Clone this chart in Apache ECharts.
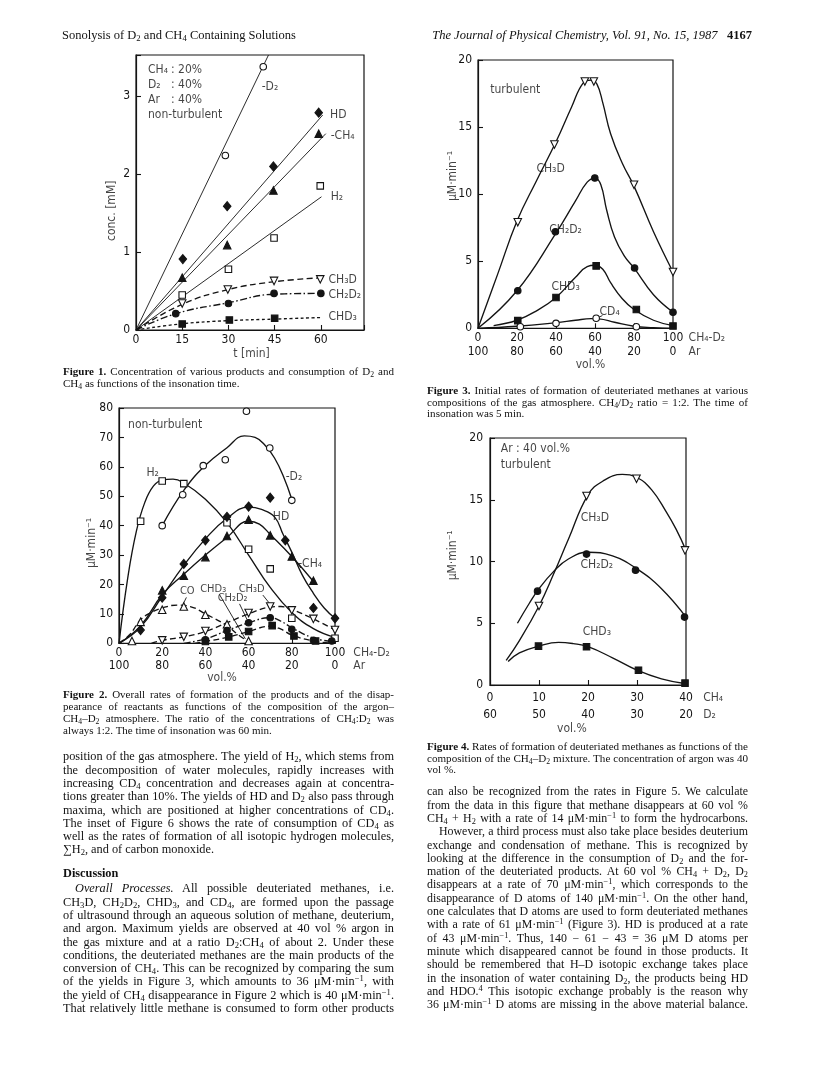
<!DOCTYPE html>
<html><head><meta charset="utf-8">
<script src="https://cdn.jsdelivr.net/npm/echarts@6/dist/echarts.min.js"></script>
<style>
html,body{margin:0;padding:0;background:#fff;}
#page{position:relative;width:820px;height:1068px;overflow:hidden;background:#fff;}
#chart{position:absolute;left:0;top:0;width:820px;height:1068px;}
.ln{position:absolute;font-family:'Liberation Serif','Times New Roman',serif;color:#111;white-space:nowrap;overflow:visible;}
sub{font-size:0.7em;vertical-align:-0.28em;line-height:0;}
sup{font-size:0.7em;vertical-align:0.45em;line-height:0;}
</style></head>
<body><div id="page"><div id="chart"></div><div id="txt"></div></div>
<script>
// ---------------- DATA ----------------
// Figure 1 (conc. [mM] vs t [min])
const fig1XTicks = [0, 15, 30, 45, 60];
const fig1YTicks = [0, 1, 2, 3];
const fig1D2Pts = [[29, 2.24], [41.3, 3.38]];
const fig1D2Line = [[0, 0], [43, 3.53]];
const fig1HDPts = [[15.2, 0.91], [29.6, 1.59], [44.6, 2.1], [59.3, 2.79]];
const fig1HDLine = [[0, 0], [60.6, 2.76]];
const fig1CH4Pts = [[15, 0.67], [29.6, 1.09], [44.6, 1.79], [59.3, 2.52]];
const fig1CH4Line = [[0, 0], [61.6, 2.52]];
const fig1H2Pts = [[15, 0.45], [30, 0.78], [44.8, 1.18], [59.8, 1.85]];
const fig1H2Line = [[0, 0], [60.2, 1.71]];
const fig1CH3DPts = [[15, 0.34], [29.8, 0.52], [44.8, 0.63], [59.8, 0.65]];
const fig1CH3DCurve = [[0, 0], [15, 0.33], [30, 0.52], [45, 0.62], [60, 0.67]];
const fig1CH2D2Pts = [[12.9, 0.21], [30, 0.34], [44.8, 0.47], [60, 0.47]];
const fig1CH2D2Curve = [[0, 0], [13, 0.21], [30, 0.35], [45, 0.46], [60, 0.47]];
const fig1CHD3Pts = [[15, 0.077], [30.3, 0.128], [45, 0.15]];
const fig1CHD3Curve = [[0, 0], [15, 0.08], [30, 0.12], [45, 0.14], [60, 0.16]];

// Figure 2 (µM·min-1 vs vol.%), non-turbulent
const fig2XTop = ['0', '20', '40', '60', '80', '100'];
const fig2XBottom = ['100', '80', '60', '40', '20', '0'];
const fig2YTicks = [0, 10, 20, 30, 40, 50, 60, 70, 80];
const fig2D2Pts = [[20, 40], [29.5, 50.5], [39, 60.4], [49.2, 62.4], [59, 78.9], [69.8, 66.4], [80, 48.6]];
const fig2D2Curve = [[20, 40], [30, 52], [40, 60.5], [50, 66.5], [58, 70.5], [63, 70], [68, 67], [72, 63], [76, 57], [80, 49]];
const fig2H2Pts = [[10, 41.5], [20, 55.2], [30, 54.3], [50, 41], [60, 32], [70, 25.3], [80, 8.5], [100, 1.7]];
const fig2H2Curve = [[0, 0], [4, 22], [8, 38], [12, 48], [16, 53.5], [20, 55.5], [25, 55.8], [30, 54.5], [40, 49], [50, 41], [60, 30], [70, 19], [80, 10.5], [90, 5], [100, 2]];
const fig2HDPts = [[10, 4.5], [20, 15.5], [30, 27], [40, 35], [50, 43], [60, 46.5], [70, 49.5], [77, 35], [90, 12], [100, 8.5]];
const fig2HDCurve = [[0, 0], [10, 5.5], [20, 16], [30, 26.5], [40, 35.5], [50, 42.5], [60, 46.3], [66, 45.5], [72, 43], [76, 37], [80, 31], [85, 23], [90, 17], [95, 12], [100, 8.5]];
const fig2CH4Pts = [[20, 18], [30, 23], [40, 29.3], [50, 36.5], [60, 42], [70, 36.7], [80, 29.5], [90, 21.3]];
const fig2CH4Curve = [[0, 0], [10, 6], [20, 16.5], [30, 23.5], [40, 30], [50, 36], [60, 41.5], [65, 40.5], [70, 37], [80, 29.5], [90, 21]];
const fig2COPts = [[6, 0.8], [10, 7.3], [20, 11.4], [30, 12.5], [40, 9.7], [50, 6.5], [60, 0.8]];
const fig2COCurve = [[0, 0], [5, 3], [10, 8], [15, 10.5], [20, 12], [27, 13], [33, 12.5], [40, 10], [50, 6], [55, 3], [60, 0.5]];
const fig2CH3DPts = [[20, 1], [30, 2.2], [40, 4.2], [60, 10.3], [70, 12.5], [80, 11.2], [90, 8.3], [100, 4.5]];
const fig2CH3DCurve = [[15, 0], [20, 1], [30, 2.2], [40, 4], [50, 7], [60, 10], [70, 12.3], [75, 12.5], [80, 11.5], [90, 8.3], [100, 4.5]];
const fig2CH2D2Pts = [[40, 1.2], [50, 4.3], [60, 7], [70, 8.7], [80, 4.8], [90, 1], [98.5, 0.8]];
const fig2CH2D2Curve = [[30, 0], [40, 1.5], [50, 4.3], [60, 7], [70, 8.7], [75, 7.5], [80, 5.3], [90, 1.8], [100, 0.5]];
const fig2CHD3Pts = [[40, 0.6], [50.8, 2.2], [60, 4], [70.9, 6], [81, 2.5], [91, 0.8]];
const fig2CHD3Curve = [[35, 0], [40, 0.6], [50, 2], [60, 4], [70, 5.8], [75, 4.8], [80, 2.8], [90, 0.8], [100, 0]];

// Figure 3 (initial rates, turbulent)
const fig3XTop = ['0', '20', '40', '60', '80', '100'];
const fig3XBottom = ['100', '80', '60', '40', '20', '0'];
const fig3YTicks = [0, 5, 10, 15, 20];
const fig3CH3DPts = [[20.4, 7.9], [39.2, 13.7], [54.8, 18.4], [59.4, 18.4], [80, 10.7], [100, 4.2]];
const fig3CH3DCurve = [[0, 0], [10, 4], [20, 8], [30, 11], [40, 13.9], [48, 16.5], [54, 18.3], [58, 18.5], [61, 18.2], [64, 16.8], [68, 14.5], [74, 12.3], [80, 10.6], [90, 7.2], [100, 4.2]];
const fig3CH2D2Pts = [[20.4, 2.8], [39.7, 7.2], [59.9, 11.2], [80.3, 4.5], [100, 1.2]];
const fig3CH2D2Curve = [[0, 0], [20, 2.8], [40, 7.1], [50, 9.5], [56, 10.9], [60, 11.2], [63, 10.7], [66, 8.8], [70, 6.8], [75, 5.4], [80, 4.5], [90, 2.5], [100, 1.2]];
const fig3CHD3Pts = [[20.4, 0.57], [40, 2.3], [60.6, 4.65], [81.2, 1.4], [100, 0.17]];
const fig3CHD3Curve = [[8, 0.2], [20, 0.6], [30, 1.3], [40, 2.3], [50, 3.8], [56, 4.6], [60, 4.7], [64, 4.4], [68, 3.4], [74, 2.2], [80, 1.4], [90, 0.6], [100, 0.2]];
const fig3CD4Pts = [[21.7, 0.12], [40, 0.37], [60.6, 0.75], [81.2, 0.12]];
const fig3CD4Curve = [[0, 0], [20, 0.15], [40, 0.42], [50, 0.6], [58, 0.72], [62, 0.7], [70, 0.45], [80, 0.15], [90, 0.05], [100, 0]];

// Figure 4 (Ar 40 vol.%, turbulent)
const fig4XTop = ['0', '10', '20', '30', '40'];
const fig4XBottom = ['60', '50', '40', '30', '20'];
const fig4YTicks = [0, 5, 10, 15, 20];
const fig4CH3DPts = [[10, 6.4], [19.7, 15.3], [29.9, 16.7], [39.8, 10.9]];
const fig4CH3DCurve = [[3.3, 2], [6, 3.6], [10, 6.4], [13, 9], [16, 11.8], [20, 15.4], [23, 16.5], [27, 17.05], [30, 16.8], [33, 15.8], [36, 14], [38, 12.6], [40, 10.9]];
const fig4CH2D2Pts = [[9.7, 7.6], [19.7, 10.6], [29.7, 9.3], [39.7, 5.5]];
const fig4CH2D2Curve = [[5.6, 5], [8, 6.6], [10, 7.8], [13, 9.2], [16, 10.2], [20, 10.75], [25, 10.45], [30, 9.4], [35, 7.8], [40, 5.5]];
const fig4CHD3Pts = [[9.9, 3.15], [19.7, 3.1], [30.3, 1.2], [39.8, 0.15]];
const fig4CHD3Curve = [[3.7, 1.9], [6, 2.6], [10, 3.15], [14, 3.45], [17, 3.35], [20, 3.1], [25, 2.2], [30, 1.2], [35, 0.5], [40, 0.1]];

// ---------------- STYLE / LAYOUT ----------------
const INK = '#141414';
const FONT = "'Liberation Sans Narrow','DejaVu Sans Condensed','Liberation Sans','DejaVu Sans',sans-serif";
const FS = 12;

function grid(l, t, w, h) {
  return { left: l, top: t, width: w, height: h, show: true, borderColor: INK, borderWidth: 1.2, backgroundColor: 'transparent' };
}
function listFmt(ticks) { return v => (ticks.indexOf(v) >= 0 ? String(v) : ''); }
function twoRowFmt(step, top, bottom) {
  return v => { const i = Math.round(v / step); if (Math.abs(i * step - v) > 1e-6 || i >= top.length) return ''; return top[i] + '\n' + bottom[i]; };
}
function xAx(gi, min, max, interval, fmt, margin, lh) {
  return { type: 'value', gridIndex: gi, min, max, interval,
    axisLine: { show: true, onZero: false, lineStyle: { color: INK, width: 1.2 } },
    axisTick: { show: true, inside: true, length: 5, lineStyle: { color: INK, width: 1.1 } },
    splitLine: { show: false },
    axisLabel: { formatter: fmt, margin, color: INK, fontFamily: FONT, fontSize: FS, lineHeight: lh, showMinLabel: true, showMaxLabel: true } };
}
function yAx(gi, min, max, interval, fmt, margin) {
  return { type: 'value', gridIndex: gi, min, max, interval,
    axisLine: { show: true, onZero: false, lineStyle: { color: INK, width: 1.2 } },
    axisTick: { show: true, inside: true, length: 5, lineStyle: { color: INK, width: 1.1 } },
    splitLine: { show: false },
    axisLabel: { formatter: fmt, margin, color: INK, fontFamily: FONT, fontSize: FS, showMinLabel: true, showMaxLabel: true } };
}
const SYM = {
  oc: { symbol: 'circle', fill: '#fff', rot: 0, size: 6.5 },
  fc: { symbol: 'circle', fill: INK, rot: 0, size: 6.5 },
  os: { symbol: 'rect', fill: '#fff', rot: 0, size: 6.5 },
  fs: { symbol: 'rect', fill: INK, rot: 0, size: 6.5 },
  fd: { symbol: 'diamond', fill: INK, rot: 0, size: [7.5, 9] },
  ft: { symbol: 'triangle', fill: INK, rot: 0, size: 7.5 },
  ot: { symbol: 'triangle', fill: '#fff', rot: 0, size: 7.5 },
  od: { symbol: 'triangle', fill: '#fff', rot: 180, size: 7.5 }
};
function pts(gi, data, k) {
  const s = SYM[k];
  return { type: 'scatter', xAxisIndex: gi, yAxisIndex: gi, data, symbol: s.symbol, symbolSize: s.size, symbolRotate: s.rot,
    itemStyle: { color: s.fill, borderColor: INK, borderWidth: 1.1, opacity: 1 }, z: 4, silent: true, clip: false };
}
const DASH = { solid: 'solid', long: [6, 3.5], short: [3, 2.5], dashdot: [7, 2.5, 1.6, 2.5] };
function curve(gi, data, dash, smooth) {
  return { type: 'line', xAxisIndex: gi, yAxisIndex: gi, data, smooth: smooth === undefined ? 0.45 : smooth, showSymbol: false, symbol: 'none',
    lineStyle: { color: INK, width: 1.35, type: DASH[dash] }, z: 3, silent: true, clip: false };
}
function seg(gi, data) {
  return { type: 'line', xAxisIndex: gi, yAxisIndex: gi, data, smooth: false, showSymbol: false, symbol: 'none',
    lineStyle: { color: INK, width: 0.9 }, z: 3, silent: true, clip: false };
}
// text notes placed through the axes: [x, y, text, align('l' = left, 'c' = center, 'v' = vertical), fontSize?]
function notes(gi, list, extra) {
  return { type: 'scatter', xAxisIndex: gi, yAxisIndex: gi, symbolSize: 0, clip: false, silent: true, z: 6,
    data: list.map(n => ({ value: [n[0], n[1]], label: Object.assign({ show: true, formatter: n[2],
      position: n[3] === 'l' ? 'right' : 'inside', distance: 0, rotate: n[3] === 'v' ? 90 : 0,
      color: INK, fontFamily: FONT, fontSize: n[4] || FS, lineHeight: 15 }, extra || {}) })) };
}

const series = [
  // Figure 1
  seg(0, fig1D2Line), seg(0, fig1HDLine), seg(0, fig1CH4Line), seg(0, fig1H2Line),
  curve(0, fig1CH3DCurve, 'long'), curve(0, fig1CH2D2Curve, 'dashdot'), curve(0, fig1CHD3Curve, 'short'),
  pts(0, fig1D2Pts, 'oc'), pts(0, fig1HDPts, 'fd'), pts(0, fig1CH4Pts, 'ft'), pts(0, fig1H2Pts, 'os'),
  pts(0, fig1CH3DPts, 'od'), pts(0, fig1CH2D2Pts, 'fc'), pts(0, fig1CHD3Pts, 'fs'),
  // Figure 2
  curve(1, fig2D2Curve, 'solid'), curve(1, fig2H2Curve, 'solid'), curve(1, fig2HDCurve, 'solid'), curve(1, fig2CH4Curve, 'solid'),
  curve(1, fig2COCurve, 'long'), curve(1, fig2CH3DCurve, 'long'), curve(1, fig2CH2D2Curve, 'dashdot'), curve(1, fig2CHD3Curve, 'long'),
  pts(1, fig2D2Pts, 'oc'), pts(1, fig2H2Pts, 'os'), pts(1, fig2HDPts, 'fd'), pts(1, fig2CH4Pts, 'ft'),
  pts(1, fig2COPts, 'ot'), pts(1, fig2CH3DPts, 'od'), pts(1, fig2CH2D2Pts, 'fc'), pts(1, fig2CHD3Pts, 'fs'),
  // Figure 3
  curve(2, fig3CH3DCurve, 'solid'), curve(2, fig3CH2D2Curve, 'solid'), curve(2, fig3CHD3Curve, 'solid'), curve(2, fig3CD4Curve, 'solid'),
  pts(2, fig3CH3DPts, 'od'), pts(2, fig3CH2D2Pts, 'fc'), pts(2, fig3CHD3Pts, 'fs'), pts(2, fig3CD4Pts, 'oc'),
  // Figure 4
  curve(3, fig4CH3DCurve, 'solid'), curve(3, fig4CH2D2Curve, 'solid'), curve(3, fig4CHD3Curve, 'solid'),
  pts(3, fig4CH3DPts, 'od'), pts(3, fig4CH2D2Pts, 'fc'), pts(3, fig4CHD3Pts, 'fs'),
  // leader lines
  seg(1, [[31.2, 15.6], [29.6, 13.2]]), seg(1, [[46.5, 16.6], [58.5, 1.5]]), seg(1, [[55.8, 13.4], [59.2, 8.2]]), seg(1, [[66.6, 16.4], [70.3, 13]]),
  seg(1, [[84.2, 25.6], [81.6, 28.2]]),
  seg(2, [[63.8, 0.95], [61.6, 0.8]]),
  // annotations
  notes(0, [
    [3.9, 3.045, '{a|CH₄}{b|: 20%}\n{a|D₂}{b|: 40%}\n{a|Ar}{b|: 40%}\nnon-turbulent', 'l'],
    [40.8, 3.12, '-D₂', 'l'], [63, 2.76, 'HD', 'l'], [63.2, 2.49, '-CH₄', 'l'], [63.2, 1.71, 'H₂', 'l'],
    [62.5, 0.64, 'CH₃D', 'l'], [62.5, 0.45, 'CH₂D₂', 'l'], [62.5, 0.17, 'CHD₃', 'l'],
    [37.5, -0.31, 't [min]', 'c'], [-7.8, 1.53, 'conc. [mM]', 'v']
  ], { rich: { a: { width: 23, fontFamily: FONT, fontSize: FS, color: INK, lineHeight: 15 }, b: { fontFamily: FONT, fontSize: FS, color: INK, lineHeight: 15 } } }),
  notes(1, [
    [4.2, 74.3, 'non-turbulent', 'l'], [15.6, 58.1, 'H₂', 'c'], [81, 56.7, '-D₂', 'c'], [75, 42.9, 'HD', 'c'],
    [88.5, 26.9, '-CH₄', 'c'], [31.6, 17.6, 'CO', 'c', 11], [43.6, 18.3, 'CHD₃', 'c', 11], [52.6, 15.2, 'CH₂D₂', 'c', 11], [61.4, 18.3, 'CH₃D', 'c', 11],
    [108.5, -3.1, 'CH₄-D₂', 'l'], [108.5, -7.6, 'Ar', 'l'], [47.7, -11.7, 'vol.%', 'c'], [-12.5, 34.1, 'μM·min⁻¹', 'v']
  ]),
  notes(2, [
    [6.3, 17.8, 'turbulent', 'l'], [37.2, 11.9, 'CH₃D', 'c'], [44.9, 7.3, 'CH₂D₂', 'c'], [44.9, 3.1, 'CHD₃', 'c'], [67.5, 1.2, 'CD₄', 'c'],
    [108, -0.72, 'CH₄-D₂', 'l'], [108, -1.77, 'Ar', 'l'], [57.7, -2.73, 'vol.%', 'c'], [-12.7, 11.35, 'μM·min⁻¹', 'v']
  ]),
  notes(3, [
    [2.2, 19.1, 'Ar : 40 vol.%', 'l'], [2.2, 17.8, 'turbulent', 'l'], [21.4, 13.5, 'CH₃D', 'c'], [21.8, 9.7, 'CH₂D₂', 'c'], [21.8, 4.3, 'CHD₃', 'c'],
    [43.5, -1.05, 'CH₄', 'l'], [43.5, -2.43, 'D₂', 'l'], [16.7, -3.57, 'vol.%', 'c'], [-7.55, 10.5, 'μM·min⁻¹', 'v']
  ])
];

const option = {
  animation: false,
  backgroundColor: 'transparent',
  grid: [grid(136, 55, 228, 275), grid(119, 408, 216, 235.3), grid(478, 60, 195, 268.3), grid(490, 438, 196, 247)],
  xAxis: [
    xAx(0, 0, 74, 15, listFmt(fig1XTicks), 3, 13),
    xAx(1, 0, 100, 20, twoRowFmt(20, fig2XTop, fig2XBottom), 3, 13),
    xAx(2, 0, 100, 20, twoRowFmt(20, fig3XTop, fig3XBottom), 3, 14),
    xAx(3, 0, 40, 10, twoRowFmt(10, fig4XTop, fig4XBottom), 5, 16.5)
  ],
  yAxis: [
    yAx(0, 0, 3.53, 1, listFmt(fig1YTicks), 6),
    yAx(1, 0, 80, 10, listFmt(fig2YTicks), 6),
    yAx(2, 0, 20, 5, listFmt(fig3YTicks), 6),
    yAx(3, 0, 20, 5, listFmt(fig4YTicks), 7)
  ],
  series
};
const chart = echarts.init(document.getElementById('chart'), null, { renderer: 'canvas' });
chart.setOption(option);

// ---------------- PAGE TEXT ----------------
const headerLeft = 'Sonolysis of D<sub>2</sub> and CH<sub>4</sub> Containing Solutions';
const headerRight = '<i>The Journal of Physical Chemistry, Vol. 91, No. 15, 1987</i>&nbsp;&nbsp;&nbsp;<b>4167</b>';
// [html, justify(1/0), indent(px)]
const cap1 = [['<b>Figure 1.</b> Concentration of various products and consumption of D<sub>2</sub> and', 1], ['CH<sub>4</sub> as functions of the insonation time.', 0]];
const cap2 = [['<b>Figure 2.</b> Overall rates of formation of the products and of the disap-', 1],
  ['pearance of reactants as functions of the composition of the argon–', 1],
  ['CH<sub>4</sub>–D<sub>2</sub> atmosphere. The ratio of the concentrations of CH<sub>4</sub>:D<sub>2</sub> was', 1],
  ['always 1:2. The time of insonation was 60 min.', 0]];
const cap3 = [['<b>Figure 3.</b> Initial rates of formation of deuteriated methanes at various', 1],
  ['compositions of the gas atmosphere. CH<sub>4</sub>/D<sub>2</sub> ratio = 1:2. The time of', 1],
  ['insonation was 5 min.', 0]];
const cap4 = [['<b>Figure 4.</b> Rates of formation of deuteriated methanes as functions of the', 1],
  ['composition of the CH<sub>4</sub>–D<sub>2</sub> mixture. The concentration of argon was 40', 1],
  ['vol %.', 0]];
const bodyLeft1 = [['position of the gas atmosphere. The yield of H<sub>2</sub>, which stems from', 1],
  ['the decomposition of water molecules, rapidly increases with', 1],
  ['increasing CD<sub>4</sub> concentration and decreases again at concentra-', 1],
  ['tions greater than 10%. The yields of HD and D<sub>2</sub> also pass through', 1],
  ['maxima, which are positioned at higher concentrations of CD<sub>4</sub>.', 1],
  ['The inset of Figure 6 shows the rate of consumption of CD<sub>4</sub> as', 1],
  ['well as the rates of formation of all isotopic hydrogen molecules,', 1],
  ['∑H<sub>2</sub>, and of carbon monoxide.', 0]];
const bodyLeft2 = [['<i>Overall Processes.</i> All possible deuteriated methanes, i.e.', 1, 12],
  ['CH<sub>3</sub>D, CH<sub>2</sub>D<sub>2</sub>, CHD<sub>3</sub>, and CD<sub>4</sub>, are formed upon the passage', 1],
  ['of ultrasound through an aqueous solution of methane, deuterium,', 1],
  ['and argon. Maximum yields are observed at 40 vol % argon in', 1],
  ['the gas mixture and at a ratio D<sub>2</sub>:CH<sub>4</sub> of about 2. Under these', 1],
  ['conditions, the deuteriated methanes are the main products of the', 1],
  ['conversion of CH<sub>4</sub>. This can be recognized by comparing the sum', 1],
  ['of the yields in Figure 3, which amounts to 36 μM·min<sup>−1</sup>, with', 1],
  ['the yield of CH<sub>4</sub> disappearance in Figure 2 which is 40 μM·min<sup>−1</sup>.', 1],
  ['That relatively little methane is consumed to form other products', 1]];
const bodyRight = [['can also be recognized from the rates in Figure 5. We calculate', 1],
  ['from the data in this figure that methane disappears at 60 vol %', 1],
  ['CH<sub>4</sub> + H<sub>2</sub> with a rate of 14 μM·min<sup>−1</sup> to form the hydrocarbons.', 1],
  ['However, a third process must also take place besides deuterium', 1, 12],
  ['exchange and condensation of methane. This is recognized by', 1],
  ['looking at the difference in the consumption of D<sub>2</sub> and the for-', 1],
  ['mation of the deuteriated products. At 60 vol % CH<sub>4</sub> + D<sub>2</sub>, D<sub>2</sub>', 1],
  ['disappears at a rate of 70 μM·min<sup>−1</sup>, which corresponds to the', 1],
  ['disappearance of D atoms of 140 μM·min<sup>−1</sup>. On the other hand,', 1],
  ['one calculates that D atoms are used to form deuteriated methanes', 1],
  ['with a rate of 61 μM·min<sup>−1</sup> (Figure 3). HD is produced at a rate', 1],
  ['of 43 μM·min<sup>−1</sup>. Thus, 140 − 61 − 43 = 36 μM D atoms per', 1],
  ['minute which disappeared cannot be found in those products. It', 1],
  ['should be remembered that H–D isotopic exchange takes place', 1],
  ['in the insonation of water containing D<sub>2</sub>, the products being HD', 1],
  ['and HDO.<sup>4</sup> This isotopic exchange probably is the reason why', 1],
  ['36 μM·min<sup>−1</sup> D atoms are missing in the above material balance.', 1]];

const host = document.getElementById('txt');
function place(html, x, yc, w, fs, lh, justify, indent, extra) {
  const d = document.createElement('div');
  d.className = 'ln';
  d.style.left = x + 'px'; d.style.top = (yc - lh / 2) + 'px';
  d.style.fontSize = fs + 'px'; d.style.lineHeight = lh + 'px'; d.style.height = lh + 'px';
  if (indent) d.style.paddingLeft = indent + 'px';
  if (extra) Object.assign(d.style, extra);
  d.innerHTML = html; host.appendChild(d);
  if (justify && w) {
    const natural = d.getBoundingClientRect().width;
    const n = (d.textContent.match(/ /g) || []).length;
    if (n > 0) d.style.wordSpacing = ((w - natural) / n) + 'px';
  }
  return d;
}
function block(lines, x, y0, w, fs, lh) { lines.forEach((l, i) => place(l[0], x, y0 + i * lh, w, fs, lh, l[1], l[2] || 0)); }
const LX = 63, LW = 331, RX = 427, RW = 321;
place(headerLeft, 62, 35, null, 12.5, 16, false, 0);
place(headerRight, 752, 35, null, 12.5, 16, false, 0, { transform: 'translateX(-100%)' });
block(cap1, LX, 371, LW, 11, 12.2);
block(cap2, LX, 694, LW, 11, 12.1);
block(cap3, RX, 391, RW, 11.1, 11.4);
block(cap4, RX, 747, RW, 11.1, 11.4);
block(bodyLeft1, LX, 757, LW, 12.3, 13.3);
place('<b>Discussion</b>', LX, 873, null, 12.3, 14, false, 0);
block(bodyLeft2, LX, 889, LW, 12.3, 13.3);
block(bodyRight, RX, 792, RW, 11.9, 13.3);
</script></body></html>
